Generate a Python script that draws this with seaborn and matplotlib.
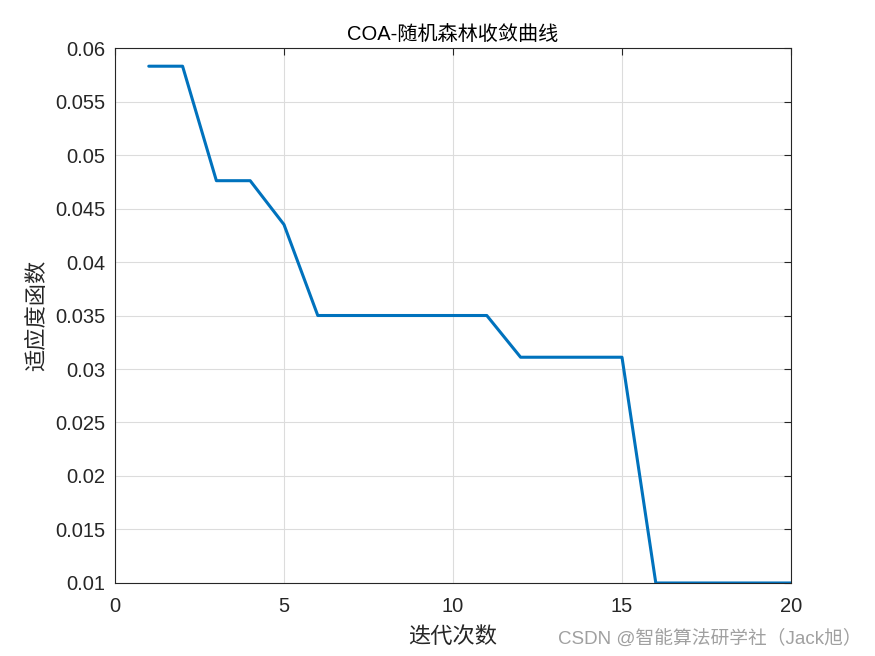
import numpy as np
import pandas as pd
import matplotlib
matplotlib.use("Agg")
import matplotlib.pyplot as plt
import seaborn as sns

iterations = list(range(1, 21))
fitness = [0.0583, 0.0583, 0.0476, 0.0476, 0.0435, 0.0350, 0.0350, 0.0350, 0.0350, 0.0350,
           0.0350, 0.0311, 0.0311, 0.0311, 0.0311, 0.0100, 0.0100, 0.0100, 0.0100, 0.0100]
x_ticks = [0, 5, 10, 15, 20]
y_ticks = [0.01, 0.015, 0.02, 0.025, 0.03, 0.035, 0.04, 0.045, 0.05, 0.055, 0.06]
y_labels = ["0.01", "0.015", "0.02", "0.025", "0.03", "0.035", "0.04", "0.045", "0.05", "0.055", "0.06"]

df = pd.DataFrame({"iter": iterations, "fit": fitness})

sns.set_style("white")
plt.rcParams['font.family'] = ['Liberation Sans', 'Noto Sans CJK SC']

fig = plt.figure(figsize=(8.75, 6.56), dpi=100)
ax = fig.add_axes([0.1314, 0.1113, 0.7726, 0.8155])

sns.lineplot(data=df, x="iter", y="fit", ax=ax, color="#0072BD", linewidth=2.2)

ax.set_xlim(0, 20)
ax.set_ylim(0.01, 0.06)
ax.set_xticks(x_ticks)
ax.set_xticklabels([str(t) for t in x_ticks])
ax.set_yticks(y_ticks)
ax.set_yticklabels(y_labels)
ax.grid(True, color="#dcdcdc", linewidth=0.8)
ax.tick_params(direction="in", length=5, width=0.8, labelsize=14.5, colors="#262626",
               top=True, right=True)
ax.tick_params(axis="x", pad=10)
ax.tick_params(axis="y", pad=7)
for s in ax.spines.values():
    s.set_color("#262626")
    s.set_linewidth(0.8)

ax.set_title("COA-随机森林收敛曲线", fontsize=14.5, color="black", pad=6)
ax.set_xlabel("迭代次数", fontsize=16, color="#262626", labelpad=8)
ax.set_ylabel("适应度函数", fontsize=16, color="#262626", labelpad=5)

fig.text(0.985, 0.012, "CSDN @智能算法研学社（Jack旭）", ha="right", va="bottom",
         fontsize=13.5, color="#a0a0a0")

fig.savefig("out.png", dpi=100, facecolor="white")
